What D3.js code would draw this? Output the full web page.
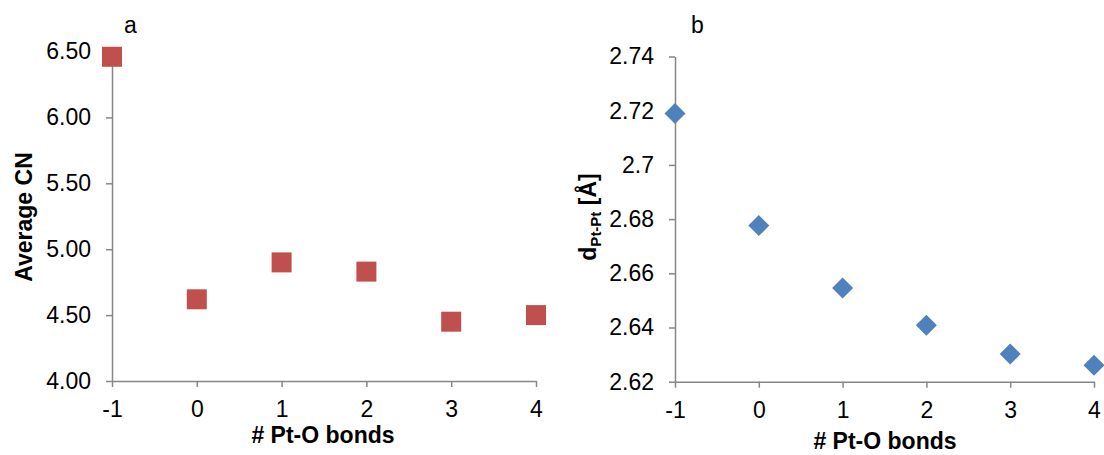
<!DOCTYPE html>
<html>
<head>
<meta charset="utf-8">
<script src="https://cdn.jsdelivr.net/npm/d3@7"></script>
<style>
  html, body { margin: 0; padding: 0; background: #fff; }
  svg { display: block; font-family: "Liberation Sans", Arial, sans-serif; }
</style>
</head>
<body>
<svg id="chart" width="1104" height="455"></svg>
<script>
// Number of Pt-O bonds (shared x values)
const bonds = [-1, 0, 1, 2, 3, 4];
const xTicks = [-1, 0, 1, 2, 3, 4];
const xTickLabels = ["-1", "0", "1", "2", "3", "4"];

// Panel a: average coordination number
const avgCN = [6.46, 4.62, 4.90, 4.83, 4.45, 4.50];
const cnTicks = [4.0, 4.5, 5.0, 5.5, 6.0, 6.5];
const cnTickLabels = ["4.00", "4.50", "5.00", "5.50", "6.00", "6.50"];

// Panel b: Pt-Pt distance in Å
const dPtPt = [2.719, 2.6776, 2.6546, 2.6408, 2.6302, 2.6261];
const dTicks = [2.62, 2.64, 2.66, 2.68, 2.70, 2.72, 2.74];
const dTickLabels = ["2.62", "2.64", "2.66", "2.68", "2.7", "2.72", "2.74"];

const svg = d3.select("#chart");
const axisColor = "#868686";
const fontSize = 23;

function styleAxis(g) {
  g.selectAll("path.domain").attr("stroke", axisColor).attr("stroke-width", 1.5);
  g.selectAll(".tick line").attr("stroke", axisColor).attr("stroke-width", 1.5);
  g.selectAll(".tick text").attr("fill", "#000").attr("font-size", fontSize)
    .attr("font-family", "'Liberation Sans', Arial, sans-serif");
}

function panel(opts) {
  const x = d3.scaleLinear().domain([-1, 4]).range([opts.x0, opts.x1]);
  const y = d3.scaleLinear().domain(opts.yDomain).range([opts.y0, opts.y1]);

  const xLabelMap = new Map(xTicks.map((t, i) => [t, xTickLabels[i]]));
  const gx = svg.append("g").attr("transform", `translate(0,${opts.y0})`)
    .call(d3.axisBottom(x).tickValues(xTicks).tickFormat(d => xLabelMap.get(d))
      .tickSize(6).tickSizeOuter(0).tickPadding(14));
  styleAxis(gx);

  const labelMap = new Map(opts.yTicks.map((t, i) => [t, opts.yLabels[i]]));
  const gy = svg.append("g").attr("transform", `translate(${opts.x0},0)`)
    .call(d3.axisLeft(y).tickValues(opts.yTicks).tickFormat(d => labelMap.get(d))
      .tickSize(6).tickSizeOuter(0).tickPadding(15));
  styleAxis(gy);

  return { x, y };
}

// ---- Panel a ----
const a = panel({
  x0: 112, x1: 536, y0: 381, y1: 51.5,
  yDomain: [4.0, 6.5], yTicks: cnTicks, yLabels: cnTickLabels
});

svg.append("g").selectAll("rect")
  .data(bonds.map((b, i) => [b, avgCN[i]]))
  .join("rect")
  .attr("x", d => a.x(d[0]) - 10)
  .attr("y", d => a.y(d[1]) - 10)
  .attr("width", 20).attr("height", 20)
  .attr("fill", "#C0504D");

svg.append("text").attr("x", 124).attr("y", 33).attr("font-size", fontSize).text("a");

svg.append("text")
  .attr("transform", "translate(32,217) rotate(-90)")
  .attr("text-anchor", "middle").attr("font-size", fontSize).attr("font-weight", "bold")
  .text("Average CN");

svg.append("text").attr("x", 323).attr("y", 443)
  .attr("text-anchor", "middle").attr("font-size", fontSize).attr("font-weight", "bold")
  .text("# Pt-O bonds");

// ---- Panel b ----
const b = panel({
  x0: 675, x1: 1094, y0: 381.7, y1: 56.5,
  yDomain: [2.62, 2.74], yTicks: dTicks, yLabels: dTickLabels
});

svg.append("g").selectAll("path")
  .data(bonds.map((v, i) => [v, dPtPt[i]]))
  .join("path")
  .attr("transform", d => `translate(${b.x(d[0])},${b.y(d[1])})`)
  .attr("d", "M0,-10.5L10.5,0L0,10.5L-10.5,0Z")
  .attr("fill", "#4F81BD");

svg.append("text").attr("x", 691).attr("y", 33).attr("font-size", fontSize).text("b");

const yt = svg.append("text")
  .attr("transform", "translate(596,217) rotate(-90)")
  .attr("text-anchor", "middle").attr("font-size", fontSize).attr("font-weight", "bold");
yt.append("tspan").text("d");
yt.append("tspan").attr("font-size", 15).attr("dy", 5).text("Pt-Pt");
yt.append("tspan").attr("dy", -5).text(" [Å]");

svg.append("text").attr("x", 885).attr("y", 449)
  .attr("text-anchor", "middle").attr("font-size", fontSize).attr("font-weight", "bold")
  .text("# Pt-O bonds");
</script>
</body>
</html>
